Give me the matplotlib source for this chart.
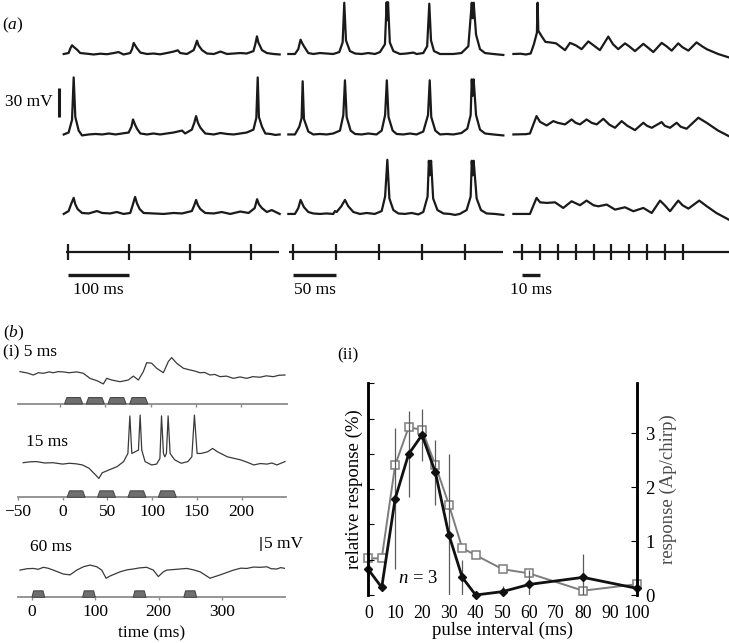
import matplotlib
matplotlib.use("Agg")
import matplotlib.pyplot as plt
import numpy as np
from matplotlib.patches import Polygon

plt.rcParams['font.family'] = ['Liberation Serif', 'DejaVu Serif']
plt.rcParams['mathtext.fontset'] = 'custom'
plt.rcParams['mathtext.rm'] = 'Liberation Serif'
plt.rcParams['mathtext.it'] = 'Liberation Serif:italic'

# ---- panel (a): voltage traces, (ms, mV) ----
a100_r1 = [(-7, 0), (1, 1), (4, 6), (6.6, 9), (10, 7), (14.8, 4.5), (20, 1), (31, 0.3), (42, -0.5), (53, 0.3),
           (64, -0.2), (75, 1), (83, 2), (91, -0.5), (102, 1), (105, 5), (107.7, 11.4), (110, 9), (113, 6), (118.6, 1.5),
           (129.5, 0), (140, 0.5), (151, -0.3), (162, 1), (173, 2.5), (180, 3.8), (184, 1), (195, 0), (206, 4), (209, 9),
           (211.5, 13.8), (214, 9), (219.7, 4), (227.9, 0.5), (239, 0), (250, 2.5), (260.7, 0), (271.6, 0.5), (282.5, 1),
           (293, 0.5), (304, 3), (307, 10), (309.8, 18.3), (312, 12), (318, 4), (326, 1), (337, 0), (347, -0.5)]
a100_r2 = [(-7, 0), (1, 2), (6.6, 15), (9.3, 59), (12, 18), (17.5, 4), (23, -1), (34, 0), (45, 0.5), (56, 0), (67, 1),
           (78, 0), (88.5, 1), (99.5, 2), (104, 8), (106.6, 15.5), (110, 10), (113, 6), (118.6, 1), (129.5, 0), (140, 1),
           (151, 0), (162, 1), (173, 2), (187, 4), (192, 1), (203, 5), (207, 12), (210, 19), (213, 12), (217, 7), (225, 1),
           (239, 0), (250, 1.5), (260.7, 0.5), (271.6, 0), (282.5, 1), (293, 2), (304, 5), (308.7, 17), (311, 59),
           (313, 18), (318, 8), (323.5, 1), (332, 0.5), (340, -0.5), (347, 0)]
a100_r3 = [(-7, 0), (1, 3), (5, 10), (9.3, 16.6), (12, 10), (15.8, 5), (23, 1), (34, 0.5), (47.5, 3), (56, 1), (69, 0.5),
           (80, 2), (91, 0), (102, 1), (106, 9), (110, 17.6), (113, 11), (117.5, 5), (124, 1), (140, 0.5), (157, 0),
           (173, 1), (187, 0.5), (203, 3), (207, 9), (210, 14.5), (213, 9), (217, 5), (225, 1), (239, 0.5), (252, 2),
           (266, 0), (282.5, 2.5), (296, 1), (306, 6), (310, 15.2), (313, 10), (318, 6), (326, 2), (334, 4), (347, 0)]

a50_r1 = [(-5.8, 0), (1.9, 0), (5.8, 5), (8.5, 14.8), (10.5, 11), (12.4, 8), (17.5, 1), (23.3, 0), (31, 1), (38.9, 0.5),
          (46.6, 0), (53.6, 2), (57.5, 12), (59.4, 53), (61.4, 14), (66, 3), (72, 0.5), (79.6, 0), (87.4, 1), (95.2, 0),
          (101, 2), (106.8, 10), (108.8, 53.5), (109.6, 35), (110.4, 53.5), (112.5, 12), (116.6, 3), (124.3, 0),
          (132, 0.5), (140, 1.5), (143.7, 0), (151.5, 1), (156, 8), (158.5, 52), (160.5, 14), (164, 3), (171, 0),
          (178.7, 0), (186.5, 0), (196, 1), (204, 8), (208, 53), (209, 37), (210.2, 53), (213, 20), (217.6, 5),
          (223.4, 1), (233, 0), (244.8, -1)]
a50_r2 = [(-5.8, 0), (1.9, 0), (7, 8), (9.7, 17), (10.9, 55), (12.4, 16), (17.5, 3), (23.3, 0), (31, 0.5), (38.9, 0),
          (46.6, 1), (54.4, 4), (58.3, 20), (60.2, 56), (62.2, 18), (66.8, 4), (72, 0.5), (79.6, 0), (87.4, 1), (97, 0),
          (103, 4), (107, 20), (109, 56), (111, 18), (115.8, 4), (120.4, 0.5), (128.2, 0), (136, 1), (143.7, 0),
          (151.5, 3), (157, 20), (159, 56), (160.8, 18), (165.5, 4), (171, 0), (178.7, 0.5), (186.5, 0), (196, 1.5),
          (202.8, 6), (206.7, 20), (208, 57), (209, 40), (210.2, 57), (213, 20), (217.6, 5), (223.4, 1), (233, 0),
          (244.8, -1)]
a50_r3 = [(-5.8, 0), (1.9, 0), (5.8, 6), (8.5, 14.5), (12.4, 7), (17.5, 2), (23.3, 0.5), (31, 0), (38.9, 0.5), (46.6, 0),
          (48.6, 3), (50.5, 2), (56, 8), (60.2, 14.5), (64, 8), (70, 2), (77.7, 0), (85.5, 1), (95, 0), (103, 3),
          (107, 18), (109.6, 56), (112, 16), (116.6, 4), (122.4, 0.5), (130, 0), (138, 1), (145.7, -0.5), (151.5, 2),
          (156.5, 18), (158, 55), (159, 40), (160.6, 55), (163, 16), (168, 4), (175, 0.5), (182.6, 0), (188.4, -1),
          (194, 0), (202, 4), (206.7, 18), (208, 55), (209, 40), (210.2, 55), (213.7, 16), (218.7, 4), (225.3, 0.5),
          (235, 0), (244.8, -1)]

a10_r1 = [(-5, 0), (-1, 0.3), (2, -0.5), (4.7, 0.5), (6.5, 10), (8.2, 22), (8.6, 53), (9.0, 24), (11, 18), (13, 12.5),
          (15.5, 12), (19, 11), (24, 4), (26.8, 11.5), (30, 9), (33.3, 5), (37.1, 13), (40, 9), (43.6, 4), (48.3, 18),
          (51, 10), (53.9, 5), (57.7, 11), (60, 8), (63.3, 3), (68, 10.5), (71, 6), (73.6, 2), (78.3, 11.5), (81, 8),
          (83.9, 3.5), (87.6, 11), (90, 7), (93.3, 3.5), (97.9, 12), (101, 8), (103.6, 5), (110, 0), (116, -3.5)]
a10_r2 = [(-5, 0), (2, 0.3), (4.3, 1), (8, 19), (10, 13), (13.7, 9.3), (17.4, 13.8), (20, 12), (24, 10.4), (27.7, 15.5),
          (30, 12), (32.4, 10.4), (36.1, 15.5), (39, 12), (41.8, 10.4), (45.5, 16.2), (49, 10), (52.1, 6.9), (55.8, 13.8),
          (59, 9), (63.3, 4.5), (68, 12.1), (70, 9), (72.7, 6.9), (78.3, 12.8), (80, 9), (83, 6.9), (86.7, 12.1),
          (89, 8), (92.3, 5.9), (98.9, 17.3), (103.6, 12), (110, 4), (116, -1.7)]
a10_r3 = [(-5, 0), (4.3, 0), (8, 16.6), (10, 12), (13.7, 11.4), (18.4, 12), (23, 6.2), (27.7, 13.1), (32.4, 9),
          (36.1, 13.8), (40, 9), (42.7, 7.9), (47.4, 9.7), (52.1, 4.5), (57.7, 6.9), (62.4, 2.8), (68, 6.2), (72.7, 1),
          (77.4, 13.8), (80, 9), (83, 2.8), (87.6, 13.8), (90, 9), (93.3, 5.5), (99.4, 13.8), (103.6, 8), (109, 1),
          (116, -5.9)]

stim_100ms = [0, 100, 200, 300]
stim_50ms = [0, 50, 100, 150, 200]
stim_10ms = [0, 10, 20, 30, 40, 50, 60, 70, 80, 90]

# ---- panel (b)(i): traces (ms, mV) and chirp pulse onsets (ms) ----
b_5ms = [(-44.2, 0.6), (-36, 0.1), (-29.5, -0.6), (-24, 0.2), (-18.4, 0), (-12, 0.5), (-7.4, 0.2), (-2, 0.6), (3.7, 0.5),
         (10, 0.2), (18.4, 0.5), (25.8, 0), (33.1, -1.8), (40.5, -2.6), (47.9, -3.8), (51.6, -1.8), (57.1, -2.4),
         (66.3, -3.0), (75.5, -2.4), (81, -1.0), (86.6, -2.4), (92.1, 0.6), (95.8, 3.8), (101.3, 3.6), (106.8, 1.8),
         (114.2, 0.2), (119.7, 4.2), (123.4, 5.6), (128.9, 3.6), (136.3, 1.8), (143.6, 1.2), (149, 0.8), (154.7, 0.2),
         (160, 0.3), (165.7, -0.6), (171, -0.4), (176.8, -1.2), (184, -1.0), (191.5, -1.8), (199, -1.3),
         (206.3, -1.8), (213, -1.2), (221, -1.4), (228, -0.9), (235.7, -1.2), (242, -0.7), (248.6, -0.6)]
b_15ms = [(-44.2, 0), (-37, 0.3), (-29.5, 0.4), (-20, -0.1), (-11, 0), (0, -0.5), (7.4, -0.2), (15, -0.4),
          (22.1, -0.8), (29.5, -2.0), (35, -3.8), (40.5, -5.6), (44.2, -3.6), (51.6, -2.6), (60.8, -1.4), (68.1, 0.4),
          (72.9, 3.3), (75.1, 16.7), (77.3, 3.3), (81, 3.9), (84.7, 4.5), (86.6, 17), (88.4, 4.5), (92.1, 0.4),
          (99.4, -0.8), (105, -0.5), (108.7, 1.5), (110.5, 16.7), (112.7, 3.3), (114.2, 2.1), (116, 3.3),
          (117.9, 16.7), (120.1, 3.3), (125.3, 1.0), (132.6, -0.2), (140, 0.4), (144.4, 2.1), (147.3, 17),
          (150.3, 3.3), (154.7, 3.3), (162.1, 3.9), (167.6, 5.1), (173.1, 3.9), (184.2, 2.1), (199, 1.0),
          (206, 0.2), (213.7, -0.8), (221, -0.3), (228.5, -0.5), (234, -0.1), (239.5, -0.8), (248.6, 0.4)]
b_60ms = [(-19, -0.4), (-8, 0.1), (2.1, 0.2), (10, -0.1), (17.9, 0.6), (25, 0.3), (33.7, -0.4), (49.5, -1.8),
          (60.1, -2.1), (70.6, -0.4), (81.2, 0.8), (91.7, 1.4), (102.3, 0.8), (110.2, -0.4), (117, -3.3),
          (123.3, -2.5), (139.2, -1.0), (150, -0.3), (160.1, 0), (170, 0.4), (181.2, 0.6), (191.7, -0.4),
          (199.6, -2.7), (207.5, -1.0), (212.8, -0.4), (228.6, -0.1), (244.4, 0.2), (255, -0.3), (265.5, -1.0),
          (281.3, -3.3), (297.2, -2.1), (318.2, -0.4), (330, 0.3), (339.3, 0.2), (350, 0.7), (360.4, 0.6),
          (370.9, 0.8), (378, 0.1), (386.7, 0), (393, 0.5), (399.9, 0.2)]
pulse_on_5ms = [5, 29, 53, 77]
pulse_on_15ms = [5, 39, 73, 107]
pulse_on_60ms = [0, 80, 160, 240]
pulse_dur = 20

# ---- panel (b)(ii): pulse interval tuning ----
intervals = [0, 5, 10, 15, 20, 25, 30, 35, 40, 50, 60, 80, 100]
rel_resp = [14.5, 4.3, 54.5, 79.8, 90.7, 69.5, 34.2, 10, 0, 1.9, 6, 10, 3.8]
rel_err = [0, 0, 40, 24.4, 14.5, 18.4, 45.6, 10, 0, 3.2, 8, 13.5, 3.7]
ap_resp = [0.68, 0.68, 2.41, 3.11, 3.07, 2.41, 1.68, 0.87, 0.74, 0.48, 0.40, 0.08, 0.20]

W, H = 729, 643
fig = plt.figure(figsize=(W / 100, H / 100), dpi=100)


def px_axes(left, right, top, bottom):
    return fig.add_axes([left / W, 1 - bottom / H, (right - left) / W, (bottom - top) / H])


def px_scale(ax, left, right, top, bottom, x0, xs, y0, ys):
    # data (0, 0) lands on pixel (x0, y0); xs / ys = pixels per data unit
    ax.set_xlim((left - x0) / xs, (right - x0) / xs)
    ax.set_ylim((y0 - bottom) / ys, (y0 - top) / ys)


def fig_text(x, y, s, **kw):
    fig.text(x / W, 1 - y / H, s, **kw)


# panel (a)
row_off = [0, -83.2, -165.4]
stim_y, bar_y, lab_y = -204.8, -228.5, -244.5
cols = [
    ([a100_r1, a100_r2, a100_r3], stim_100ms, (-3.8, 346), 100, '100 ms', (0, 284), 68, 0.61),
    ([a50_r1, a50_r2, a50_r3], stim_50ms, (-4.7, 244.8), 50, '50 ms', (284, 508), 293.3, 0.858),
    ([a10_r1, a10_r2, a10_r3], stim_10ms, (-5, 116), 10, '10 ms', (508, 729), 522.3, 1.78),
]
for i, (traces, pulses, span, bar, lab, (l, r), t0, pxms) in enumerate(cols):
    ax = px_axes(l, r, 0, 305)
    ax.set_axis_off()
    px_scale(ax, l, r, 0, 305, t0, pxms, 54, 0.967)
    for tr, off in zip(traces, row_off):
        t, v = np.array(tr).T
        ax.plot(t, v + off, color='#1a1a1a', lw=1.6, solid_joinstyle='round', clip_on=False)
    ax.hlines(stim_y, span[0], span[1], color='#1a1a1a', lw=1.6, clip_on=False)
    ax.vlines(pulses, stim_y - 7.8, stim_y + 7.8, color='#1a1a1a', lw=1.6, clip_on=False)
    ax.hlines(bar_y, 0, bar, color='#1a1a1a', lw=2.4, clip_on=False)
    ax.text(bar / 2, lab_y, lab, ha='center', va='center', fontsize=12.5)
    if i == 0:
        ax.vlines(-14.8, -65.2, -35.2, color='#1a1a1a', lw=2.2, clip_on=False)
        ax.text(-25, -50, '30 mV', ha='right', va='center', fontsize=12.5)

fig_text(2, 25, '($a$)', ha='left', va='center', fontsize=12.5)

# panel (b)(i)
bi = [
    (b_5ms, pulse_on_5ms, (18, 287, 352, 412), 60, 0.905, 373.3, 404, [0, 50, 100, 150, 200], False),
    (b_15ms, pulse_on_15ms, (18, 286, 408, 505), 60, 0.905, 462.7, 497.3, [-50, 0, 50, 100, 150, 200], True),
    (b_60ms, pulse_on_60ms, (18, 285, 540, 602), 32, 0.633, 569, 597.3, [0, 100, 200, 300], True),
]
for trace, onsets, (l, r, tp, bt), x0, xs, y0, sy, ticks, labels in bi:
    ax = px_axes(l, r, tp, bt)
    ax.patch.set_visible(False)
    px_scale(ax, l, r, tp, bt, x0, xs, y0, 2.8)
    stim_v = (y0 - sy) / 2.8
    t, v = np.array(trace).T
    ax.plot(t, v, color='#3a3a3a', lw=0.9)
    ph = 2.3
    for on in onsets:
        ramp = 0.13 * pulse_dur
        ax.add_patch(Polygon([(on, stim_v), (on + ramp, stim_v + ph), (on + pulse_dur - ramp, stim_v + ph),
                              (on + pulse_dur, stim_v)], closed=True, facecolor='#6f6f6f',
                             edgecolor='#4a4a4a', lw=0.8, zorder=3))
    for s in ['top', 'right', 'left']:
        ax.spines[s].set_visible(False)
    ax.spines['bottom'].set_position(('data', stim_v))
    ax.spines['bottom'].set_color('#8c8c8c')
    ax.spines['bottom'].set_linewidth(1.3)
    ax.set_yticks([])
    ax.set_xticks(ticks)
    ax.tick_params(axis='x', length=2, width=1, color='#8c8c8c', pad=2.5, labelsize=12.5,
                   labelbottom=labels)
    if x0 == 32:
        ax.set_xlabel('time (ms)', fontsize=12.5, labelpad=4)
        ax.vlines(361.8, 6.4, 11.4, color='#333333', lw=1.1, clip_on=False)
        ax.text(367, 8.9, '5 mV', ha='left', va='center', fontsize=12.5, clip_on=False)

fig_text(3, 333, '($b$)', ha='left', va='center', fontsize=12.5)
fig_text(3, 352, '(i) 5 ms', ha='left', va='center', fontsize=12.5)
fig_text(26, 442, '15 ms', ha='left', va='center', fontsize=12.5)
fig_text(30, 547, '60 ms', ha='left', va='center', fontsize=12.5)

# panel (b)(ii)
fig_text(337, 355, '(ii)', ha='left', va='center', fontsize=12.5)
ax = px_axes(368.3, 636.7, 383.3, 595)
axr = ax.twinx()
ax.set_zorder(axr.get_zorder() + 1)
ax.patch.set_visible(False)
ax.set_xlim(0, 100)
ax.set_ylim(0, 120)
axr.set_ylim(0, 3.93)

axr.plot(intervals, ap_resp, color='#7d7d7d', lw=1.4, marker='s', ms=5.5, mfc='white', mec='#7d7d7d',
         mew=1.1, clip_on=False)
ax.errorbar(intervals, rel_resp, yerr=rel_err, fmt='none', ecolor='#5a5a5a', elinewidth=0.9, capsize=0)
ax.plot(intervals, rel_resp, color='#111111', lw=2.0, marker='D', ms=4.2, clip_on=False)

for a in (ax, axr):
    a.spines['top'].set_visible(False)
    a.spines['bottom'].set_visible(False)
    a.spines['left'].set_linewidth(1.8)
    a.spines['right'].set_linewidth(1.8)
ax.set_xticks(range(0, 101, 10))
ax.set_yticks(range(0, 121, 20))
ax.tick_params(axis='x', length=0, pad=7, labelsize=12.8)
ax.tick_params(axis='y', direction='in', length=4, labelleft=False)
axr.set_yticks([0, 1, 2, 3])
axr.tick_params(axis='y', direction='in', length=4, pad=6, labelsize=13.5)
ax.set_xlabel('pulse interval (ms)', fontsize=13.5, labelpad=0)
ax.set_ylabel('relative response (%)', fontsize=13.5, labelpad=4)
axr.set_ylabel('response (Ap/chirp)', fontsize=13.5, color='#4a4a4a', labelpad=4)
ax.text(18.5, 9.6, '$n$ = 3', ha='center', va='center', fontsize=13.5)

fig.savefig('out.png', dpi=100)
